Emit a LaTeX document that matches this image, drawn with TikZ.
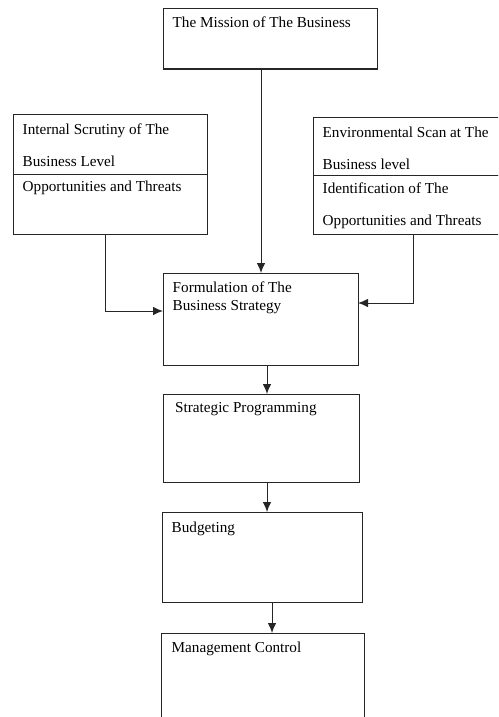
\documentclass[tikz,border=0pt]{standalone}
\usepackage{fontspec}
\setmainfont{Liberation Serif}
\usetikzlibrary{arrows.meta}
\begin{document}
\begin{tikzpicture}[x=1pt,y=-1pt,
  box/.style={draw=black!85, line width=1pt, inner sep=0pt, outer sep=0pt, anchor=north west},
  txt/.style={anchor=base west, inner sep=0pt, font=\fontsize{15.2}{18}\selectfont},
  arr/.style={draw=black!85, line width=1pt, -{Latex[length=10pt,width=8.5pt]}}]
\useasboundingbox (0,0) rectangle (498,717);
\clip (0,0) rectangle (498,717);
% boxes
\node[box, minimum width=214pt, minimum height=60pt] (mission) at (163,9) {};
\node[box, minimum width=194pt, minimum height=60pt] (intT) at (13,114) {};
\node[box, minimum width=194pt, minimum height=60pt] (intB) at (13,174) {};
\node[box, minimum width=207pt, minimum height=58pt] (envT) at (313,117) {};
\node[box, minimum width=207pt, minimum height=59pt] (envB) at (313,175) {};
\node[box, minimum width=195pt, minimum height=92pt] (form) at (163,273) {};
\node[box, minimum width=196pt, minimum height=88pt] (strat) at (163,394) {};
\node[box, minimum width=200pt, minimum height=90pt] (budget) at (162,512) {};
\node[box, minimum width=203pt, minimum height=110pt] (mgmt) at (161,633) {};
% texts
\node[txt] (t1) at (172.5,28) {The Mission of The Business};
\node[txt] (t2) at (22.5,134) {Internal Scrutiny of The};
\node[txt] (t3) at (22.5,166) {Business Level};
\node[txt] (t4) at (22.5,191) {Opportunities and Threats};
\node[txt] (t5) at (322.5,137) {Environmental Scan at The};
\node[txt] (t6) at (322.5,169) {Business level};
\node[txt] (t7) at (322.5,193) {Identification of The};
\node[txt] (t8) at (322.5,225) {Opportunities and Threats};
\node[txt] (t9) at (172.5,292.5) {Formulation of The};
\node[txt] (t10) at (172.5,310.5) {Business Strategy};
\node[txt] (t11) at (175,412.5) {Strategic Programming};
\node[txt] (t12) at (171.5,532.5) {Budgeting};
\node[txt] (t13) at (171.5,652.5) {Management Control};
% connector guides
\coordinate (mx) at (261,0);
\coordinate (la) at (105,311);
\coordinate (ra) at (413,303);
\coordinate (c1) at (267,0);
\coordinate (c2) at (267,0);
\coordinate (c3) at (272,0);
% connectors
\draw[arr] (mx |- mission.south) -- (mx |- form.north);
\draw[arr] (la |- intB.south) |- (form.west |- la);
\draw[arr] (ra |- envB.south) |- (form.east |- ra);
\draw[arr] (c1 |- form.south) -- (c1 |- strat.north);
\draw[arr] (c2 |- strat.south) -- (c2 |- budget.north);
\draw[arr] (c3 |- budget.south) -- (c3 |- mgmt.north);
\end{tikzpicture}
\end{document}
